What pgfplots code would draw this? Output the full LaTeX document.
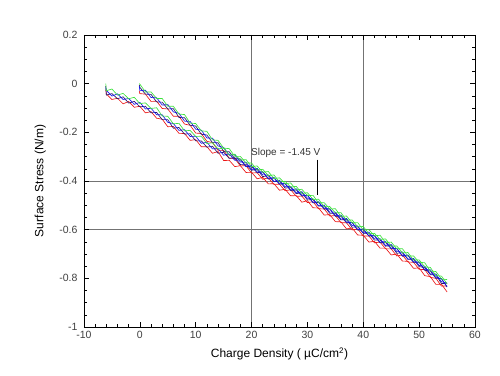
\documentclass[border=0pt]{standalone}
\usepackage{fontspec}
\setmainfont{Liberation Sans}
\usepackage{pgfplots}
\usepackage{pgfplotstable}
\pgfplotsset{compat=1.18}
\definecolor{cred}{RGB}{235,20,20}
\definecolor{cgreen}{RGB}{60,225,60}
\definecolor{cblue}{RGB}{20,20,235}
\definecolor{cnavy}{RGB}{40,20,110}

\pgfplotstableread{
x r g b n
-6.1 -0.025 0.000 -0.015 -0.010
-6 -0.042 -0.029 -0.028 -0.047
-5 -0.065 -0.022 -0.051 -0.041
-4 -0.060 -0.047 -0.042 -0.062
-3 -0.083 -0.040 -0.065 -0.054
-2 -0.073 -0.062 -0.061 -0.080
-1 -0.097 -0.056 -0.085 -0.073
0 -0.093 -0.082 -0.077 -0.095
1 -0.120 -0.079 -0.104 -0.093
2 -0.115 -0.102 -0.101 -0.120
3 -0.142 -0.099 -0.128 -0.118
4 -0.146 -0.133 -0.128 -0.148
5 -0.177 -0.134 -0.159 -0.148
6 -0.176 -0.165 -0.164 -0.183
7 -0.204 -0.163 -0.192 -0.180
8 -0.205 -0.194 -0.189 -0.207
9 -0.233 -0.192 -0.217 -0.206
10 -0.230 -0.217 -0.216 -0.235
11 -0.259 -0.216 -0.245 -0.235
12 -0.259 -0.246 -0.241 -0.261
13 -0.286 -0.243 -0.268 -0.257
14 -0.279 -0.268 -0.267 -0.286
15 -0.316 -0.265 -0.294 -0.282
16 -0.315 -0.294 -0.289 -0.307
17 -0.341 -0.290 -0.315 -0.304
18 -0.337 -0.314 -0.313 -0.332
19 -0.365 -0.312 -0.341 -0.331
20 -0.364 -0.341 -0.336 -0.356
21 -0.391 -0.338 -0.363 -0.352
22 -0.385 -0.364 -0.363 -0.382
23 -0.412 -0.361 -0.390 -0.378
24 -0.411 -0.390 -0.385 -0.403
25 -0.438 -0.387 -0.412 -0.401
26 -0.434 -0.411 -0.410 -0.429
27 -0.461 -0.408 -0.437 -0.427
28 -0.460 -0.437 -0.432 -0.452
29 -0.487 -0.434 -0.459 -0.448
30 -0.481 -0.460 -0.459 -0.478
31 -0.510 -0.459 -0.488 -0.476
32 -0.511 -0.490 -0.485 -0.503
33 -0.540 -0.489 -0.514 -0.503
34 -0.538 -0.515 -0.514 -0.533
35 -0.567 -0.514 -0.543 -0.533
36 -0.568 -0.545 -0.540 -0.560
37 -0.597 -0.544 -0.569 -0.558
38 -0.593 -0.572 -0.571 -0.590
39 -0.622 -0.571 -0.600 -0.588
40 -0.623 -0.602 -0.597 -0.615
41 -0.651 -0.600 -0.625 -0.614
42 -0.648 -0.625 -0.624 -0.643
43 -0.676 -0.623 -0.652 -0.642
44 -0.676 -0.653 -0.648 -0.668
45 -0.704 -0.651 -0.676 -0.665
46 -0.700 -0.679 -0.678 -0.697
47 -0.729 -0.678 -0.707 -0.695
48 -0.730 -0.709 -0.704 -0.722
49 -0.759 -0.708 -0.733 -0.722
50 -0.757 -0.734 -0.733 -0.752
51 -0.789 -0.736 -0.765 -0.755
52 -0.793 -0.770 -0.765 -0.785
53 -0.825 -0.772 -0.797 -0.786
54 -0.824 -0.803 -0.802 -0.821
55 -0.856 -0.805 -0.834 -0.822
}\grA

\pgfplotstableread{
x r g b n
-0.1 -0.030 0.000 -0.010 -0.005
0 -0.041 -0.002 -0.029 -0.015
1 -0.043 -0.034 -0.027 -0.043
2 -0.073 -0.034 -0.057 -0.044
3 -0.072 -0.061 -0.058 -0.075
4 -0.102 -0.061 -0.088 -0.076
5 -0.104 -0.093 -0.086 -0.104
6 -0.134 -0.093 -0.116 -0.103
7 -0.134 -0.125 -0.122 -0.139
8 -0.166 -0.127 -0.154 -0.140
9 -0.171 -0.162 -0.155 -0.171
10 -0.203 -0.164 -0.187 -0.174
11 -0.205 -0.194 -0.191 -0.208
12 -0.237 -0.196 -0.223 -0.211
13 -0.242 -0.231 -0.224 -0.242
14 -0.274 -0.233 -0.256 -0.243
15 -0.274 -0.265 -0.262 -0.279
16 -0.306 -0.267 -0.294 -0.280
17 -0.308 -0.299 -0.292 -0.308
18 -0.338 -0.299 -0.322 -0.309
19 -0.337 -0.326 -0.323 -0.340
20 -0.367 -0.326 -0.353 -0.341
21 -0.366 -0.355 -0.348 -0.366
22 -0.393 -0.352 -0.375 -0.362
23 -0.387 -0.378 -0.375 -0.392
24 -0.414 -0.375 -0.402 -0.388
25 -0.413 -0.404 -0.397 -0.413
26 -0.440 -0.401 -0.424 -0.411
27 -0.436 -0.425 -0.422 -0.439
28 -0.463 -0.422 -0.449 -0.437
29 -0.462 -0.451 -0.444 -0.462
30 -0.489 -0.448 -0.471 -0.458
31 -0.485 -0.476 -0.473 -0.490
32 -0.514 -0.475 -0.502 -0.488
33 -0.515 -0.506 -0.499 -0.515
34 -0.544 -0.505 -0.528 -0.515
35 -0.542 -0.531 -0.528 -0.545
36 -0.571 -0.530 -0.557 -0.545
37 -0.572 -0.561 -0.554 -0.572
38 -0.601 -0.560 -0.583 -0.570
39 -0.597 -0.588 -0.585 -0.602
40 -0.626 -0.587 -0.614 -0.600
41 -0.626 -0.617 -0.610 -0.626
42 -0.654 -0.615 -0.638 -0.625
43 -0.651 -0.640 -0.637 -0.654
44 -0.679 -0.638 -0.665 -0.653
45 -0.679 -0.668 -0.661 -0.679
46 -0.708 -0.667 -0.690 -0.677
47 -0.704 -0.695 -0.692 -0.709
48 -0.733 -0.694 -0.721 -0.707
49 -0.734 -0.725 -0.718 -0.734
50 -0.763 -0.724 -0.747 -0.734
51 -0.764 -0.753 -0.750 -0.767
52 -0.796 -0.755 -0.782 -0.770
53 -0.800 -0.789 -0.782 -0.800
54 -0.832 -0.791 -0.814 -0.801
55 -0.831 -0.822 -0.819 -0.836
}\grB

\begin{document}
\begin{tikzpicture}
\begin{axis}[
  scale only axis,
  width=391pt, height=292pt,
  xmin=-10, xmax=60, ymin=-1, ymax=0.2,
  xtick={-10,0,10,20,30,40,50,60},
  xticklabels={-10,0,10,20,30,40,50,60},
  ytick={-1,-0.8,-0.6,-0.4,-0.2,0,0.2},
  yticklabels={-1,-0.8,-0.6,-0.4,-0.2,0,0.2},
  minor x tick num=4, minor y tick num=3,
  tick align=inside,
  major tick length=5pt, minor tick length=3pt,
  every tick/.style={black, line width=0.6pt},
  axis line style={line width=0.8pt},
  ticklabel style={font=\fontsize{10.5}{12}\selectfont, text=black!75},
  xticklabel style={yshift=-1pt},
  yticklabel style={xshift=-3pt},
  extra x ticks={20,40}, extra x tick labels={\empty,\empty},
  extra x tick style={grid=major},
  extra y ticks={-0.6,-0.4}, extra y tick labels={\empty,\empty},
  extra y tick style={grid=major},
  major grid style={black!55, line width=0.6pt},
  xlabel={Charge Density ( µC/cm\textsuperscript{2})},
  ylabel={Surface Stress (N/m)},
  label style={font=\fontsize{12}{14}\selectfont},
  xlabel style={at={(axis description cs:0.5,0)}, anchor=center, yshift=-27pt},
  ylabel style={at={(axis description cs:-0.112,0.5)}, anchor=center},
  every axis plot/.append style={no marks, line width=0.65pt},
]
\addplot[cred] table[x=x,y=r]{\grA};
\addplot[cred] table[x=x,y=r]{\grB};
\addplot[cnavy] table[x=x,y=n]{\grA};
\addplot[cnavy] table[x=x,y=n]{\grB};
\addplot[cblue] table[x=x,y=b]{\grA};
\addplot[cblue] table[x=x,y=b]{\grB};
\addplot[cgreen] table[x=x,y=g]{\grA};
\addplot[cgreen] table[x=x,y=g]{\grB};
\node[anchor=west, font=\fontsize{10}{12}\selectfont, text=black!80, inner sep=0pt] at (axis cs:19.9,-0.285) {Slope = -1.45 V};
\draw[black, line width=0.6pt] (axis cs:31.7,-0.312) -- (axis cs:31.7,-0.458);
\end{axis}
\path ([xshift=-84pt,yshift=-49pt]current axis.south west) rectangle ([xshift=25pt,yshift=35pt]current axis.north east);
\end{tikzpicture}
\end{document}
